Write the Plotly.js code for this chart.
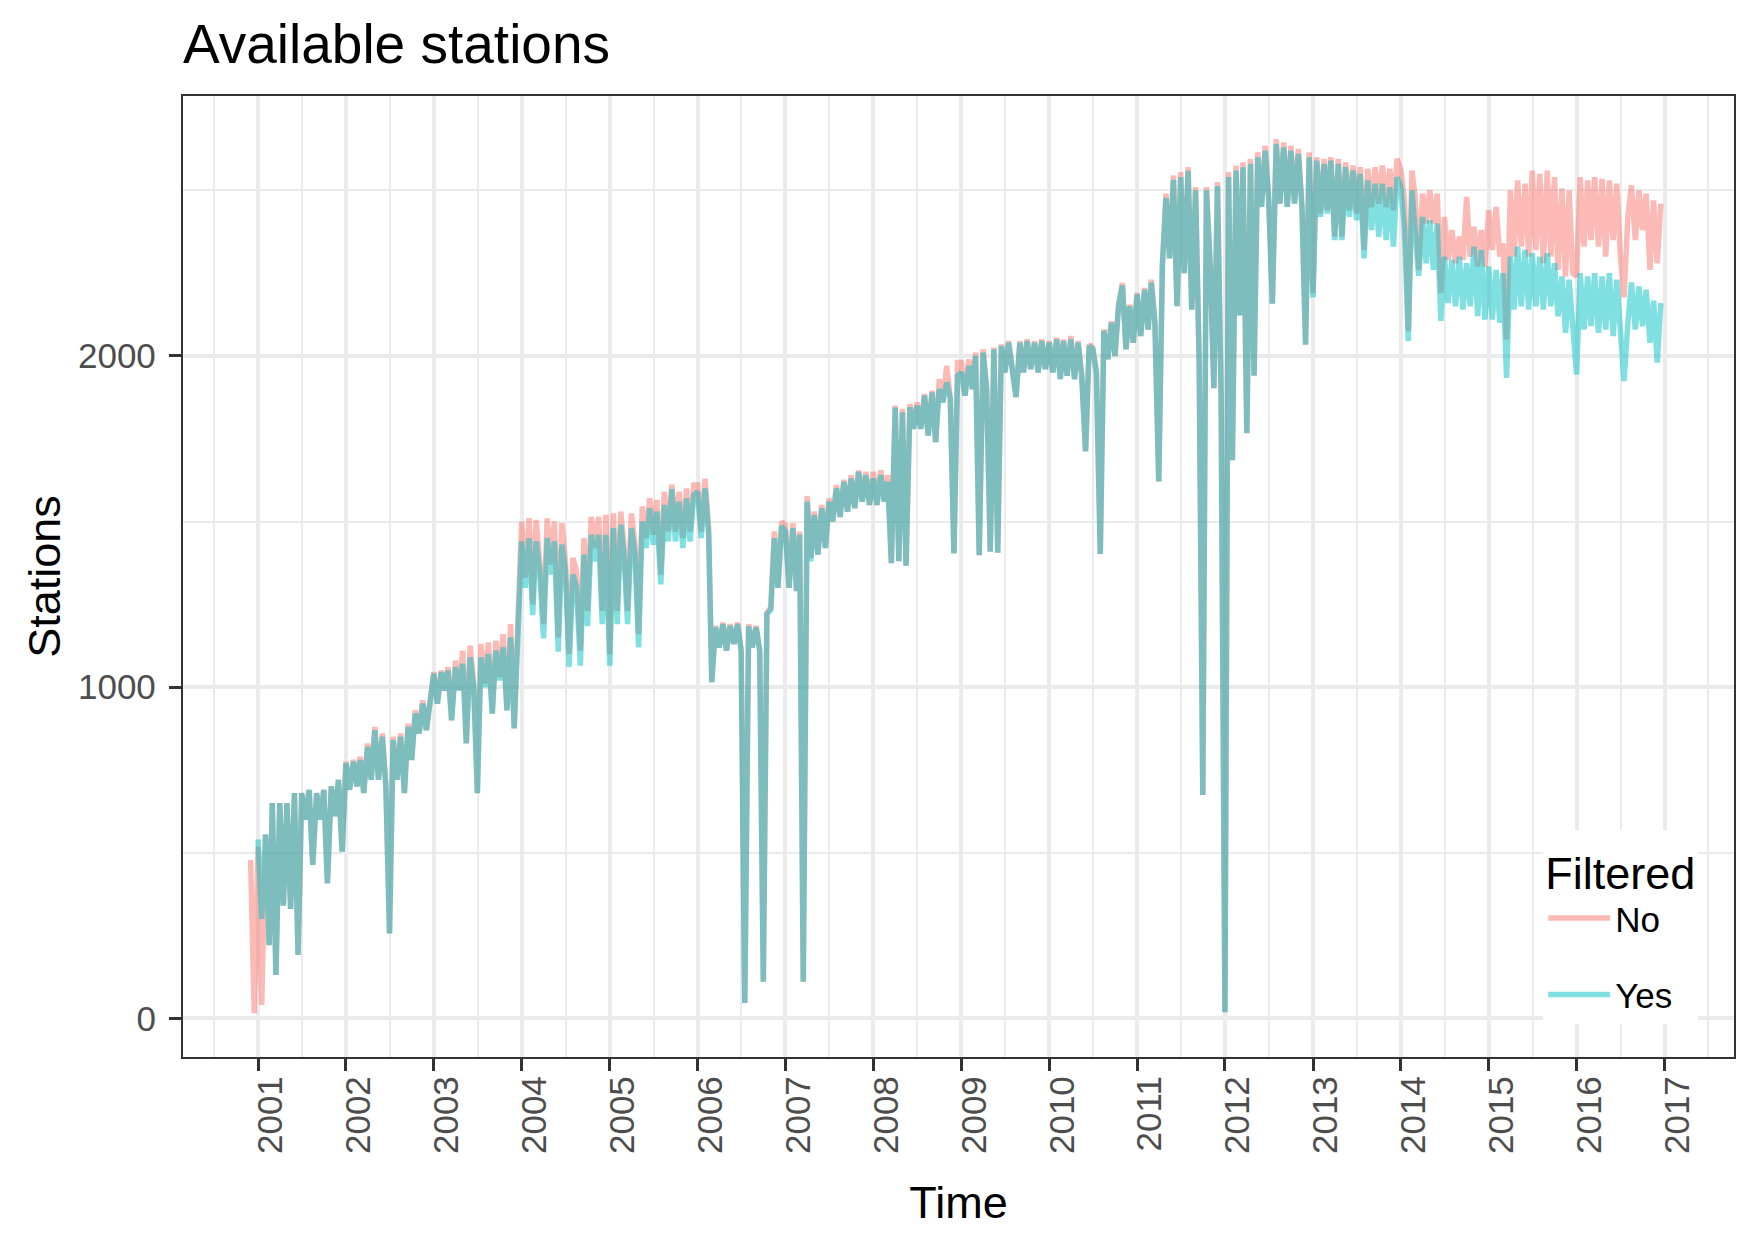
<!DOCTYPE html>
<html>
<head>
<meta charset="utf-8">
<script src="https://cdn.plot.ly/plotly-3.0.1.min.js"></script>
<style>
  html, body { margin: 0; padding: 0; background: #ffffff; }
  #stationsPlot { width: 1755px; height: 1240px; }
</style>
</head>
<body>
<div id="stationsPlot"></div>
<script>
// samples are taken twice a month (1st and 16th), Dec 2000 .. Dec 2016
var sampleDays = [1, 16];
var firstYear = 2000;
var lastYear = 2016;

var yearTicks = ["2001", "2002", "2003", "2004", "2005", "2006", "2007", "2008",
  "2009", "2010", "2011", "2012", "2013", "2014", "2015", "2016", "2017"];

// Filtered = "No"
var stationsNo = [
  478, 15, // 2000 (Dec)
  518, 40, 555, 221, 650, 131, 650, 340, 650, 330, 680, 191, 680, 600, 690, 463, 680, 600, 690, 407, 700, 610, 720, 503, // 2001
  775, 690, 780, 700, 790, 680, 830, 720, 880, 720, 860, 700, 256, 850, 720, 860, 680, 890, 780, 930, 860, 960, 870, 970, // 2002
  1045, 950, 1050, 990, 1060, 900, 1080, 990, 1110, 830, 1125, 1010, 680, 1130, 1010, 1135, 920, 1140, 1030, 1160, 930, 1190, 875, 1190, // 2003
  1500, 1330, 1510, 1250, 1505, 1380, 1190, 1510, 1370, 1500, 1150, 1495, 1380, 1100, 1390, 1350, 1110, 1450, 1230, 1514, 1420, 1514, 1230, 1520, // 2004
  1100, 1525, 1230, 1530, 1430, 1230, 1525, 1430, 1160, 1545, 1450, 1570, 1460, 1565, 1340, 1590, 1470, 1612, 1470, 1590, 1450, 1600, 1470, 1610, // 2005
  1610, 1470, 1629, 1480, 1015, 1185, 1120, 1195, 1110, 1190, 1130, 1195, 1110, 46, 1190, 1120, 1185, 1110, 110, 1225, 1240, 1470, 1300, 1500, // 2006
  1490, 1300, 1495, 1290, 1470, 110, 1577, 1390, 1530, 1400, 1550, 1420, 1570, 1500, 1610, 1514, 1626, 1530, 1640, 1540, 1654, 1560, 1650, 1550, // 2007
  1650, 1550, 1655, 1560, 1640, 1374, 1850, 1380, 1840, 1367, 1855, 1780, 1860, 1780, 1885, 1760, 1895, 1740, 1930, 1860, 1970, 1870, 1404, 1980, // 2008
  1980, 1880, 1990, 1900, 2010, 1398, 2020, 1900, 1409, 2025, 1406, 2035, 1950, 2045, 1960, 1876, 2045, 1950, 2050, 1960, 2045, 1950, 2050, 1960, // 2009
  2045, 1950, 2055, 1930, 2050, 1940, 2060, 1930, 2045, 1940, 1712, 2035, 2025, 1950, 1402, 2080, 1990, 2105, 2000, 2155, 2220, 2020, 2155, 2040, // 2010
  2190, 2060, 2205, 2080, 2230, 2100, 1621, 2275, 2490, 2295, 2545, 2150, 2555, 2250, 2570, 2140, 2510, 1976, 674, 2510, 2270, 1903, 2525, 1885, // 2011
  18, 2555, 1685, 2575, 2122, 2585, 1767, 2595, 1940, 2615, 2450, 2635, 2470, 2158, 2655, 2460, 2645, 2450, 2635, 2460, 2625, 2450, 2034, 2615, // 2012
  2190, 2600, 2430, 2595, 2440, 2600, 2360, 2595, 2360, 2585, 2440, 2575, 2430, 2570, 2320, 2565, 2450, 2570, 2460, 2575, 2450, 2565, 2440, 2596, // 2013
  2560, 2470, 2075, 2560, 2480, 2260, 2490, 2400, 2500, 2400, 2490, 2190, 2420, 2290, 2380, 2280, 2360, 2290, 2480, 2300, 2390, 2270, 2380, 2270, // 2014
  2440, 2320, 2450, 2300, 2340, 2050, 2500, 2300, 2530, 2330, 2520, 2300, 2560, 2320, 2550, 2280, 2560, 2300, 2540, 2260, 2505, 2240, 2500, 2250, // 2015
  2240, 2540, 2330, 2530, 2350, 2540, 2330, 2535, 2300, 2530, 2350, 2520, 2300, 2177, 2420, 2515, 2350, 2500, 2380, 2490, 2260, 2470, 2280, 2460, // 2016
];

// Filtered = "Yes"
var stationsYes = [
  null, null, // 2000 (Dec)
  540, 300, 555, 221, 650, 131, 650, 340, 650, 330, 680, 191, 680, 600, 690, 463, 680, 600, 690, 407, 700, 610, 720, 503, // 2001
  770, 690, 775, 700, 780, 680, 820, 720, 870, 720, 850, 700, 256, 840, 720, 850, 680, 880, 780, 920, 860, 950, 870, 960, // 2002
  1040, 950, 1045, 990, 1050, 900, 1060, 990, 1070, 830, 1090, 1000, 680, 1090, 1000, 1100, 920, 1110, 1020, 1120, 930, 1150, 875, 1150, // 2003
  1440, 1300, 1450, 1217, 1440, 1350, 1147, 1450, 1340, 1440, 1107, 1430, 1350, 1061, 1340, 1300, 1065, 1400, 1184, 1460, 1380, 1460, 1190, 1460, // 2004
  1065, 1480, 1190, 1490, 1400, 1190, 1480, 1400, 1120, 1500, 1420, 1540, 1430, 1530, 1310, 1550, 1440, 1598, 1440, 1560, 1420, 1570, 1440, 1580, // 2005
  1590, 1450, 1600, 1460, 1015, 1180, 1120, 1190, 1110, 1185, 1130, 1190, 1110, 46, 1184, 1120, 1180, 1110, 110, 1220, 1233, 1450, 1300, 1486, // 2006
  1470, 1300, 1480, 1290, 1460, 110, 1560, 1380, 1520, 1400, 1540, 1420, 1560, 1500, 1600, 1514, 1620, 1530, 1630, 1540, 1650, 1560, 1640, 1550, // 2007
  1630, 1550, 1640, 1560, 1620, 1374, 1844, 1380, 1830, 1367, 1845, 1780, 1850, 1780, 1880, 1760, 1890, 1740, 1900, 1860, 1920, 1870, 1404, 1940, // 2008
  1950, 1880, 1970, 1900, 2000, 1398, 2010, 1900, 1409, 2020, 1406, 2030, 1950, 2040, 1960, 1876, 2040, 1950, 2045, 1960, 2040, 1950, 2045, 1960, // 2009
  2040, 1950, 2050, 1930, 2045, 1940, 2050, 1930, 2040, 1940, 1712, 2030, 2020, 1950, 1402, 2076, 1990, 2100, 2000, 2150, 2213, 2020, 2150, 2040, // 2010
  2186, 2060, 2200, 2080, 2222, 2100, 1621, 2268, 2477, 2295, 2532, 2150, 2540, 2250, 2559, 2140, 2500, 1976, 674, 2500, 2270, 1903, 2513, 1885, // 2011
  18, 2540, 1685, 2560, 2122, 2570, 1767, 2580, 1940, 2600, 2450, 2620, 2470, 2158, 2640, 2460, 2630, 2450, 2620, 2460, 2610, 2450, 2034, 2600, // 2012
  2177, 2590, 2420, 2580, 2430, 2590, 2350, 2580, 2350, 2570, 2420, 2560, 2410, 2550, 2295, 2530, 2380, 2520, 2360, 2520, 2350, 2510, 2330, 2540, // 2013
  2510, 2380, 2045, 2500, 2380, 2242, 2420, 2280, 2410, 2260, 2400, 2106, 2300, 2160, 2290, 2150, 2300, 2140, 2280, 2150, 2330, 2120, 2320, 2110, // 2014
  2270, 2110, 2260, 2100, 2250, 1934, 2300, 2140, 2330, 2150, 2320, 2140, 2310, 2150, 2300, 2140, 2310, 2150, 2280, 2120, 2240, 2070, 2230, 2066, // 2015
  1944, 2250, 2080, 2240, 2090, 2250, 2070, 2240, 2080, 2250, 2060, 2230, 2080, 1924, 2100, 2222, 2080, 2210, 2090, 2200, 2040, 2167, 1980, 2160, // 2016
];

var pad2 = function (n) {
  return (n < 10 ? "0" : "") + n;
};

// dates for the samples above
var sampleDates = [];
for (let y = firstYear; y <= lastYear; y++) {
  for (let m = 1; m <= 12; m++) {
    if (y === firstYear && m < 12) continue;
    sampleDays.forEach(function (d) {
      sampleDates.push(y + "-" + pad2(m) + "-" + pad2(d));
    });
  }
}

var tickDates = yearTicks.map(function (y) { return y + "-01-01"; });
var midYearDates = ["2000-07-02"].concat(yearTicks.map(function (y) { return y + "-07-02"; }));

var cb_stationsPlot = function () {
  // wide strokes so the zig-zag of the noisy samples reads as a band
  let traceNo = {
    x: sampleDates,
    y: stationsNo,
    name: "No",
    legendgroup: "no",
    type: "scatter",
    mode: "lines",
    line: { color: "rgba(248,118,109,0.5)", width: 5.5 },
  };

  let traceYes = {
    x: sampleDates,
    y: stationsYes,
    name: "Yes",
    legendgroup: "yes",
    type: "scatter",
    mode: "lines",
    line: { color: "rgba(0,191,196,0.5)", width: 5.5 },
  };

  let data = [traceNo, traceYes];

  let layout = {
    width: 1755,
    height: 1240,
    margin: { l: 183, r: 21, t: 96, b: 183 },
    paper_bgcolor: "#ffffff",
    plot_bgcolor: "#ffffff",
    font: { family: "Liberation Sans, Arial, sans-serif", color: "#000000" },

    title: {
      text: "Available stations",
      font: { size: 55, color: "#000000" },
      x: 0,
      xref: "paper",
      xanchor: "left",
      y: 1 - 63 / 1240,
      yref: "container",
      yanchor: "bottom",
    },

    // Legende
    showlegend: true,
    legend: {
      title: { text: "Filtered", font: { size: 45, color: "#000000" } },
      font: { size: 35, color: "#000000" },
      bgcolor: "#ffffff",
      x: 0.877,
      y: 0.034,
      xanchor: "left",
      yanchor: "bottom",
      itemwidth: 62,
      tracegroupgap: 28,
    },

    xaxis: {
      type: "date",
      range: ["2000-02-24", "2017-10-16"],
      tickvals: tickDates,
      ticktext: yearTicks,
      tickangle: -90,
      tickfont: { size: 35, color: "#4d4d4d" },
      ticks: "outside",
      ticklen: 12,
      tickwidth: 3,
      tickcolor: "#333333",
      ticklabelstandoff: -9,
      ticklabelshift: 13,
      showgrid: true,
      gridcolor: "#ebebeb",
      gridwidth: 3.5,
      minor: {
        tickvals: midYearDates,
        showgrid: true,
        gridcolor: "#ebebeb",
        gridwidth: 1.8,
        ticks: "",
      },
      zeroline: false,
      showline: true,
      mirror: true,
      linecolor: "#333333",
      linewidth: 2.3,
      title: { text: "Time", font: { size: 45, color: "#000000" }, standoff: 33 },
      automargin: false,
    },
    yaxis: {
      range: [-117, 2785],
      tickvals: [0, 1000, 2000],
      ticktext: ["0", "1000", "2000"],
      tickfont: { size: 35, color: "#4d4d4d" },
      ticks: "outside",
      ticklen: 12,
      tickwidth: 3,
      tickcolor: "#333333",
      ticklabelstandoff: 6,
      showgrid: true,
      gridcolor: "#ebebeb",
      gridwidth: 3.5,
      minor: {
        tickvals: [500, 1500, 2500],
        showgrid: true,
        gridcolor: "#ebebeb",
        gridwidth: 1.8,
        ticks: "",
      },
      zeroline: false,
      showline: true,
      mirror: true,
      linecolor: "#333333",
      linewidth: 2.3,
      title: { text: "Stations", font: { size: 45, color: "#000000" }, standoff: 3 },
      automargin: false,
    },
  };
  // end layout

  let config = {
    responsive: false,
    displayModeBar: false,
    displaylogo: false,
  };

  Plotly.newPlot("stationsPlot", data, layout, config);
};

if (document.readyState === "complete" || document.readyState !== "loading") {
  cb_stationsPlot();
} else {
  document.addEventListener("DOMContentLoaded", cb_stationsPlot);
}
</script>
</body>
</html>
